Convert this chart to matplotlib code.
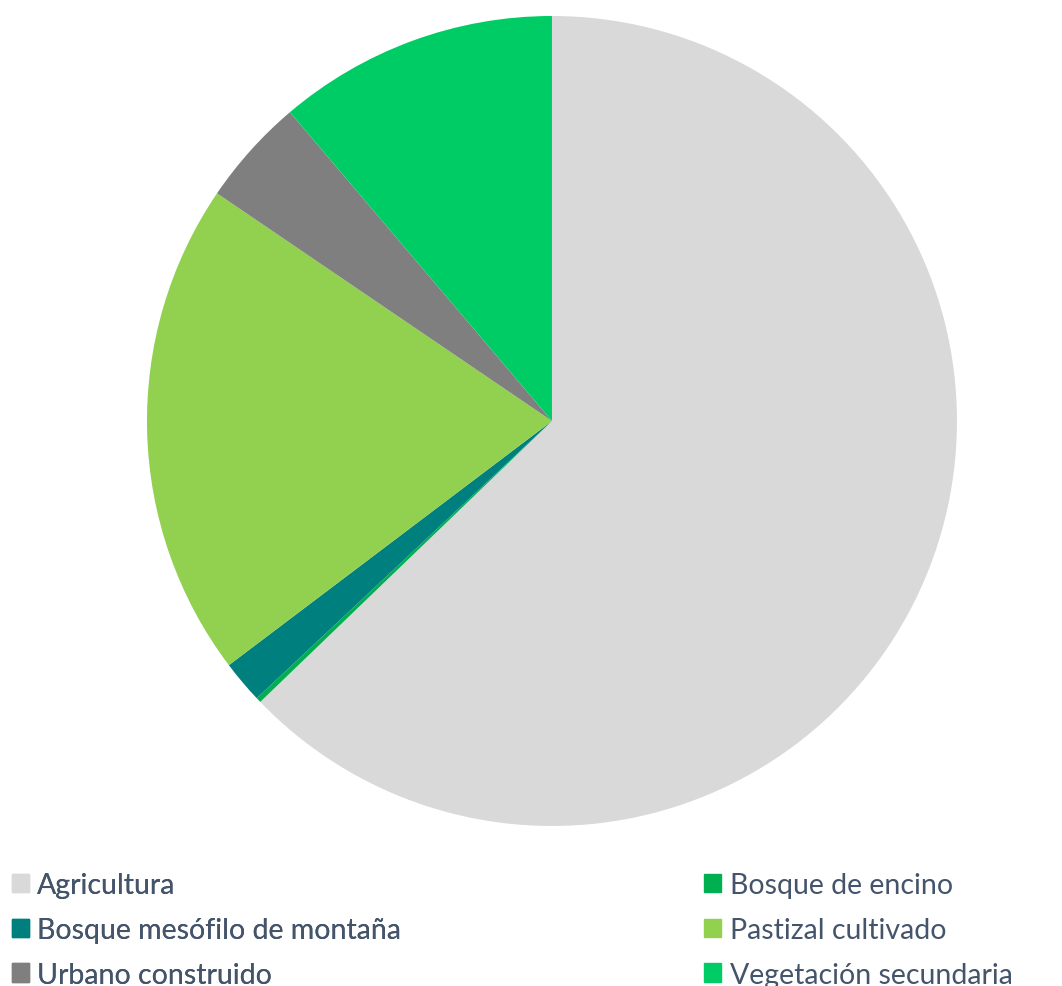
import matplotlib.pyplot as plt
from matplotlib.patches import Patch

etiquetas = ["Agricultura", "Bosque de encino", "Bosque mesófilo de montaña",
             "Pastizal cultivado", "Urbano construido", "Vegetación secundaria"]
valores = [62.8, 0.2, 1.7, 19.8, 4.3, 11.2]
colores = ["#D9D9D9", "#00B050", "#007F7F", "#92D050", "#7F7F7F", "#00CC66"]

fig = plt.figure(figsize=(10.62, 9.87), dpi=100)
ax = fig.add_axes([0.1384, 0.1621, 0.7627, 0.8207])
ax.pie(valores, colors=colores, startangle=90, counterclock=False, radius=1,
       wedgeprops={"linewidth": 0})
ax.set_xlim(-1, 1)
ax.set_ylim(-1, 1)
ax.set_aspect("equal")
ax.axis("off")

color_texto = "#44546A"
kw = dict(frameon=False, handlelength=0.6, handleheight=0.6,
          handletextpad=0.3, labelspacing=0.65, borderpad=0, borderaxespad=0,
          labelcolor=color_texto, prop={"family": "Lato", "size": 20.5})

col1 = [0, 2, 4]
col2 = [1, 3, 5]
l1 = fig.legend([Patch(color=colores[i]) for i in col1], [etiquetas[i] for i in col1],
                loc="upper left", bbox_to_anchor=(0.011, 0.115), **kw)
fig.add_artist(l1)
fig.legend([Patch(color=colores[i]) for i in col2], [etiquetas[i] for i in col2],
           loc="upper left", bbox_to_anchor=(0.663, 0.115), **kw)

fig.savefig("out.png", dpi=100)
